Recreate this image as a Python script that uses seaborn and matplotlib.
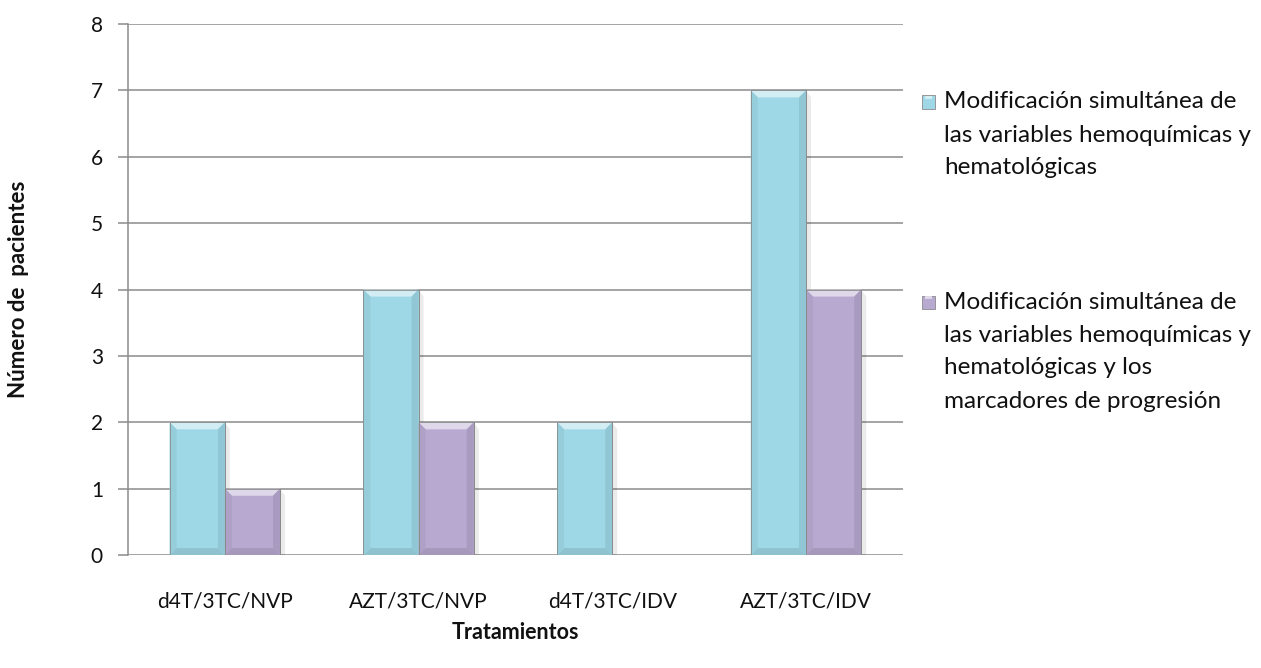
import matplotlib
matplotlib.use("Agg")
import matplotlib.pyplot as plt
import matplotlib.colors as mcolors
from matplotlib.patches import Polygon, Rectangle
import seaborn as sns
import pandas as pd

# Chart data
tratamientos = ["d4T/3TC/NVP", "AZT/3TC/NVP", "d4T/3TC/IDV", "AZT/3TC/IDV"]
serie_hematologicas = [2, 4, 2, 7]
serie_marcadores = [1, 2, 0, 4]
nombres_series = [
    "Modificación simultánea de\nlas variables hemoquímicas y\nhematológicas",
    "Modificación simultánea de\nlas variables hemoquímicas y\nhematológicas y los\nmarcadores de progresión",
]
y_ticks = [0, 1, 2, 3, 4, 5, 6, 7, 8]

colores = ["#9ED8E6", "#B8A9D0"]

df = pd.DataFrame({
    "Tratamiento": tratamientos * 2,
    "Pacientes": serie_hematologicas + serie_marcadores,
    "Serie": [nombres_series[0]] * len(tratamientos) + [nombres_series[1]] * len(tratamientos),
})

sns.set_theme(style="white")
plt.rcParams["font.family"] = ["Lato", "DejaVu Sans"]

W, H = 1261, 668
fig = plt.figure(figsize=(W / 100, H / 100), dpi=100)
ax = fig.add_axes([0.1015, 0.169, 0.6145, 0.795])

sns.barplot(data=df, x="Tratamiento", y="Pacientes", hue="Serie",
            order=tratamientos, hue_order=nombres_series,
            palette=colores, width=0.57, edgecolor="#8a8a8a", linewidth=0.6,
            saturation=1, legend=False, ax=ax, zorder=3)

ax.set_ylim(0, 8)
ax.set_xlim(-0.5, len(tratamientos) - 0.5)
ax.set_yticks(y_ticks)
ax.yaxis.grid(True, color="#8c8c8c", linewidth=1.1, zorder=0)
ax.set_axisbelow(True)
for s in ["top", "right", "bottom"]:
    ax.spines[s].set_visible(False)
ax.spines["left"].set_color("#8c8c8c")
ax.spines["left"].set_linewidth(1.1)
ax.tick_params(axis="y", left=True, length=7, width=1.1, color="#8c8c8c",
               labelsize=15, pad=11, labelcolor="#111111")
ax.tick_params(axis="x", bottom=False, labelsize=15, pad=20, labelcolor="#111111")

# Bevelled look on each bar
fig.canvas.draw()
inv = ax.transData.inverted()
p0 = inv.transform((0, 0))
p1 = inv.transform((7, 7))
dx, dy = p1[0] - p0[0], p1[1] - p0[1]
sh = (inv.transform((5, 0))[0] - p0[0])


def mix(c, other, t):
    a = mcolors.to_rgb(c)
    b = mcolors.to_rgb(other)
    return tuple(a[i] * (1 - t) + b[i] * t for i in range(3))


for bar in list(ax.patches):
    h = bar.get_height()
    if h <= 0:
        bar.set_linewidth(0)
        continue
    x, w = bar.get_x(), bar.get_width()
    top = h
    fc = bar.get_facecolor()
    # soft shadow on the right
    ax.add_patch(Polygon([(x + w, 0), (x + w + sh, 0), (x + w + sh, top - dy), (x + w, top)],
                         closed=True, facecolor="#000000", alpha=0.08, linewidth=0, zorder=2))
    ax.add_patch(Polygon([(x, top), (x + w, top), (x + w - dx, top - dy), (x + dx, top - dy)],
                         closed=True, facecolor=mix(fc, "white", 0.55), linewidth=0, zorder=4))
    ax.add_patch(Polygon([(x, 0), (x + w, 0), (x + w - dx, dy), (x + dx, dy)],
                         closed=True, facecolor=mix(fc, "black", 0.10), linewidth=0, zorder=4))
    ax.add_patch(Polygon([(x, 0), (x, top), (x + dx, top - dy), (x + dx, dy)],
                         closed=True, facecolor=mix(fc, "black", 0.05), linewidth=0, zorder=4))
    ax.add_patch(Polygon([(x + w, 0), (x + w, top), (x + w - dx, top - dy), (x + w - dx, dy)],
                         closed=True, facecolor=mix(fc, "black", 0.08), linewidth=0, zorder=4))
    ax.add_patch(Polygon([(x, 0), (x, top), (x + w, top), (x + w, 0)], closed=True,
                         fill=False, edgecolor="#8a8a8a", linewidth=0.6, zorder=5))

ax.set_xlabel("Tratamientos", fontsize=15.5, fontweight="bold", va="center", color="#111111")
ax.xaxis.set_label_coords(0.5, -77 / 531)
ax.set_ylabel("Número de  pacientes", fontsize=16, fontweight="bold", va="center", color="#111111")
ax.yaxis.set_label_coords(-110 / 775, 0.5)

# Legend: marker aligned with the first line of each wrapped label
line_px = 33
gap_px = 101
y_px = 102
for color, label in zip(colores, nombres_series):
    sq = 13
    fig.add_artist(Rectangle(((922) / W, 1 - (y_px + sq / 2) / H), sq / W, sq / H,
                             transform=fig.transFigure, facecolor=color,
                             edgecolor="#8a8a8a", linewidth=0.6))
    fig.add_artist(Rectangle(((922 + 3) / W, 1 - (y_px - sq / 2 + 3) / H), (sq - 6) / W, 3 / H,
                             transform=fig.transFigure, facecolor=mix(color, "white", 0.55),
                             linewidth=0))
    for line in label.split("\n"):
        fig.text(944 / W, 1 - y_px / H, line, fontsize=17.5, va="center", ha="left",
                 color="#111111")
        y_px += line_px
    y_px += gap_px - line_px + line_px

fig.savefig("out.png", dpi=100)
